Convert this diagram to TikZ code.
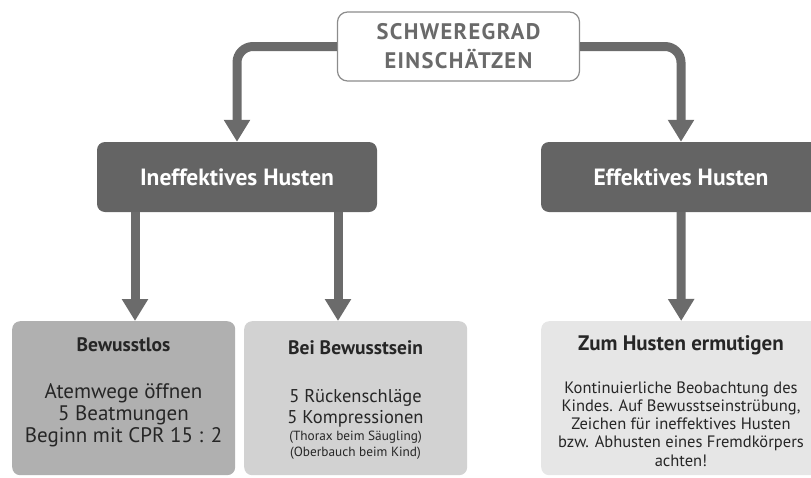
\documentclass[tikz,border=0pt]{standalone}
\usepackage{fontspec}
\setmainfont{PT Sans}
\newfontfamily\topfont[LetterSpace=6]{PT Sans}
\usetikzlibrary{arrows.meta}
\definecolor{dark}{HTML}{646464}
\definecolor{arrc}{HTML}{6B6B6B}
\definecolor{toptext}{HTML}{6A6A6A}
\definecolor{topline}{HTML}{8C8C8C}
\definecolor{boxA}{HTML}{B0B0B0}
\definecolor{boxB}{HTML}{D2D2D2}
\definecolor{boxC}{HTML}{E6E6E6}
\definecolor{txt}{HTML}{262626}
\begin{document}
\begin{tikzpicture}[x=1pt,y=-1pt,
  arr/.style={draw=arrc, line width=9pt, -{Triangle[width=25pt,length=22pt]}, rounded corners=16pt},
  darkbox/.style={fill=dark, rounded corners=8pt, minimum width=280pt, minimum height=70pt, inner sep=0pt, text=white, font=\fontsize{23.5}{28}\selectfont\bfseries},
  lowbox/.style={rounded corners=8pt, inner sep=0pt, anchor=north west, minimum height=154pt},
  ttl/.style={anchor=base, text=txt, inner sep=0pt, font=\fontsize{19.5}{22}\selectfont\bfseries},
  ln/.style={anchor=base, text=txt, inner sep=0pt}
]
\useasboundingbox (0,0) rectangle (811,477);
\clip (0,0) rectangle (811,477);

\node[draw=topline, line width=1.2pt, fill=white, rounded corners=10pt, minimum width=242pt, minimum height=69pt, text=toptext, font=\topfont\fontsize{22.5}{29}\selectfont\bfseries, align=center] (top) at (458.5,46.5) {SCHWEREGRAD\\EINSCHÄTZEN};

\node[darkbox] (ineff) at (237,177) {Ineffektives Husten};
\node[darkbox] (eff) at (681,177) {Effektives Husten};

\node[lowbox, fill=boxA, minimum width=223pt] (bl) at (12,321) {};
\node[lowbox, fill=boxB, minimum width=223pt] (bb) at (244,321) {};
\node[lowbox, fill=boxC, minimum width=280pt] (zh) at (541,321) {};

% Bewusstlos
\node[ttl] (blt) at (123.5,351) {Bewusstlos};
\begin{scope}[every node/.append style={font=\fontsize{21}{24}\selectfont}]
\node[ln] (bl1) at (123.5,398) {Atemwege öffnen};
\node[ln] (bl2) at (123.5,420) {5 Beatmungen};
\node[ln] (bl3) at (123.5,442) {Beginn mit CPR 15 : 2};
\end{scope}

% Bei Bewusstsein
\node[ttl] (bbt) at (355.5,354) {Bei Bewusstsein};
\begin{scope}[every node/.append style={font=\fontsize{18.5}{21}\selectfont}]
\node[ln] (bb1) at (355.5,402) {5 Rückenschläge};
\node[ln] (bb2) at (355.5,423) {5 Kompressionen};
\end{scope}
\begin{scope}[every node/.append style={font=\fontsize{13.3}{15}\selectfont}]
\node[ln] (bb3) at (355.5,440.5) {(Thorax beim Säugling)};
\node[ln] (bb4) at (355.5,456.5) {(Oberbauch beim Kind)};
\end{scope}

% Zum Husten ermutigen
\node[ttl, font=\fontsize{21}{24}\selectfont\bfseries] (zht) at (681,350) {Zum Husten ermutigen};
\begin{scope}[every node/.append style={font=\fontsize{16.5}{18}\selectfont}]
\node[ln] (zh1) at (681,393) {Kontinuierliche Beobachtung des};
\node[ln] (zh2) at (681,411) {Kindes. Auf Bewusstseinstrübung,};
\node[ln] (zh3) at (681,429) {Zeichen für ineffektives Husten};
\node[ln] (zh4) at (681,447.5) {bzw. Abhusten eines Fremdkörpers};
\node[ln] (zh5) at (681,466) {achten!};
\end{scope}

\coordinate (xl) at (135,0);
\coordinate (xr) at (338,0);
\draw[arr] (top.west) -| (ineff.north);
\draw[arr] (top.east) -| (eff.north);
\draw[arr] (ineff.south -| xl) -- (bl.north -| xl);
\draw[arr] (ineff.south -| xr) -- (bb.north -| xr);
\draw[arr] (eff.south) -- (zh.north);
\end{tikzpicture}
\end{document}
